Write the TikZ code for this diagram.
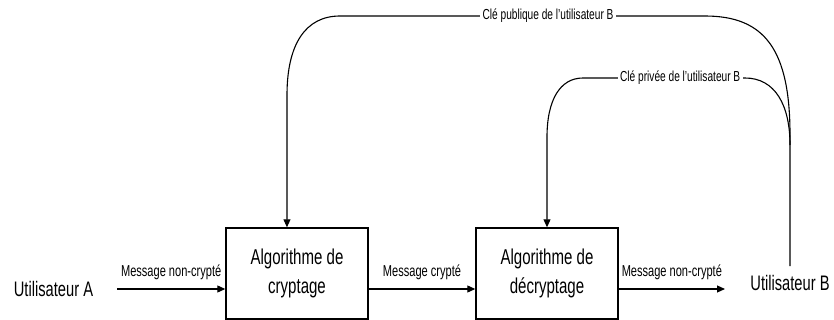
\documentclass[tikz,border=0pt]{standalone}
\usepackage{fontspec}
\setmainfont{Liberation Sans}[FakeStretch=0.7]
\usetikzlibrary{arrows.meta,calc}
\begin{document}
\begin{tikzpicture}[x=1pt,y=-1pt, line width=1.1pt, >={Triangle[length=8pt,width=7pt]},
  box/.style={draw, line width=1.4pt, minimum width=142pt, minimum height=91pt, align=center,
    font=\fontsize{21.5}{29}\selectfont, inner sep=0pt},
  big/.style={font=\fontsize{21}{24}\selectfont, inner sep=0pt, anchor=base},
  lbl/.style={font=\fontsize{15.8}{18}\selectfont, anchor=base, yshift=13pt, inner sep=0pt},
  keylbl/.style={font=\fontsize{14.5}{17}\selectfont, fill=white, inner xsep=2.5pt, inner ysep=1pt}]
\useasboundingbox (0,0) rectangle (834,320);
\node[big] (uA) at (53.5,296) {Utilisateur A};
\node[box] (b1) at (297,273.5) {Algorithme de\\cryptage};
\node[box] (b2) at (547,273.5) {Algorithme de\\décryptage};
\node[big] (uB) at (790,290) {Utilisateur B};
\coordinate (a0) at (117,289);
\coordinate (e3) at (725,289);
\coordinate (k1) at ($(b1.north west)!0.43!(b1.north east)$);
\draw[->] (a0) -- node[lbl]{Message non-crypté} (a0 -| b1.west);
\draw[->] (a0 -| b1.east) -- node[lbl]{Message crypté} (a0 -| b2.west);
\draw[->] (a0 -| b2.east) -- node[lbl]{Message non-crypté} (e3);
\draw[->] ([yshift=8pt]uB.north) -- (790,135) .. controls (790,50) and (765,16) .. (705,16)
  -- node[keylbl, pos=0.43]{Clé publique de l'utilisateur B} (340,16)
  .. controls (305,16) and (287,45) .. (287,95) -- (k1);
\draw[->] (790,145) .. controls (790,105) and (775,78) .. (745,78)
  -- node[keylbl, pos=0.4]{Clé privée de l'utilisateur B} (583,78)
  .. controls (560,78) and (547,100) .. (547,137) -- (b2.north);
\end{tikzpicture}
\end{document}
